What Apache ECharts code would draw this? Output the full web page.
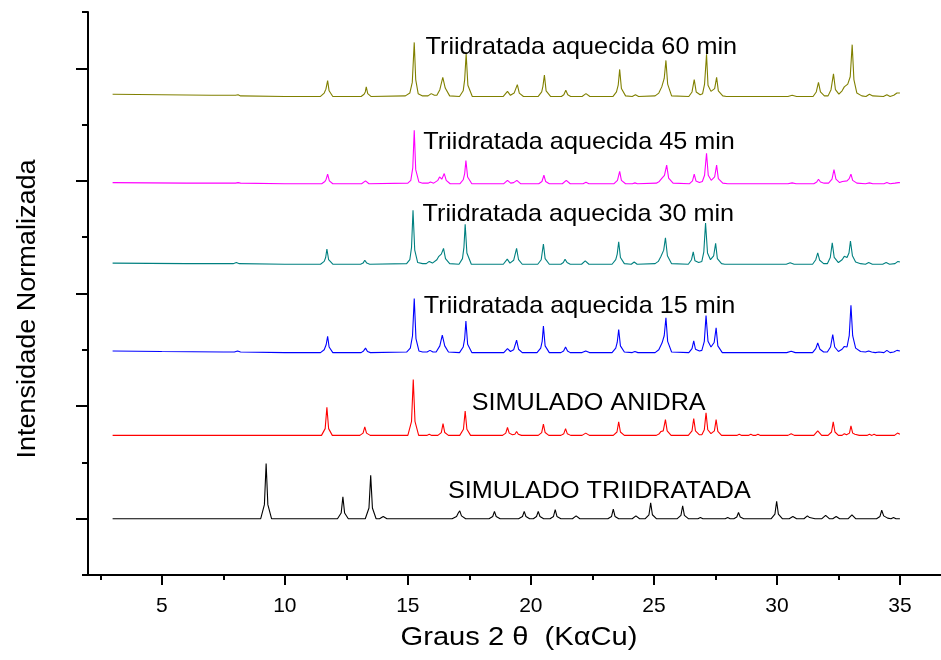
<!DOCTYPE html>
<html>
<head>
<meta charset="utf-8">
<script src="https://cdn.jsdelivr.net/npm/echarts@6/dist/echarts.min.js"></script>
<style>
html,body{margin:0;padding:0;background:#fff;}
#chart{width:941px;height:660px;}
</style>
</head>
<body>
<div id="chart"></div>
<script>
// ---- data (2θ, relative intensity above the pattern's own baseline) ----
const seriesNames = ['SIMULADO TRIIDRATADA','SIMULADO ANIDRA','Triidratada aquecida 15 min','Triidratada aquecida 30 min','Triidratada aquecida 45 min','Triidratada aquecida 60 min'];
const seriesColors = ['#000000','#ff0000','#0000ff','#008080','#ff00ff','#808000'];
const baselineOffsets = [1.0, 2.48, 3.95, 5.52, 6.95, 8.5];

const simTriidratada = [[3,0],[9.02,0],[9.17,0.25],[9.24,0.98],[9.31,0.25],[9.46,0],
[12.14,0],[12.29,0.1],[12.36,0.39],[12.43,0.1],[12.58,0],
[13.27,0],[13.42,0.19],[13.49,0.77],[13.56,0.19],[13.71,0],
[13.85,0],[14.0,0.04],[14.15,0],
[16.8,0],[16.98,0.04],[17.05,0.1],[17.11,0.14],[17.18,0.05],[17.35,0],
[18.3,0],[18.45,0.04],[18.52,0.13],[18.59,0.04],[18.75,0],
[19.5,0],[19.66,0.04],[19.73,0.13],[19.8,0.04],[19.95,0],
[20.1,0],[20.23,0.04],[20.3,0.13],[20.37,0.04],[20.52,0],
[20.78,0],[20.92,0.04],[20.99,0.16],[21.06,0.04],[21.22,0],
[21.69,0],[21.84,0.05],[21.99,0],
[23.13,0],[23.28,0.04],[23.35,0.17],[23.42,0.04],[23.57,0],
[24.12,0],[24.27,0.05],[24.42,0],
[24.65,0],[24.8,0.07],[24.87,0.28],[24.94,0.07],[25.1,0],
[25.95,0],[26.1,0.06],[26.17,0.23],[26.24,0.06],[26.4,0],
[26.79,0],[26.89,0.02],[26.99,0],
[27.9,0],[28.0,0.02],[28.1,0],
[28.25,0],[28.37,0.03],[28.44,0.11],[28.51,0.03],[28.65,0],
[29.77,0],[29.92,0.08],[29.99,0.31],[30.06,0.08],[30.22,0],
[30.5,0],[30.65,0.04],[30.8,0],
[31.1,0],[31.24,0.05],[31.33,0.02],[31.41,0.04],[31.55,0],
[31.83,0],[31.98,0.06],[32.13,0],
[32.27,0],[32.41,0.04],[32.55,0],
[32.9,0],[33.05,0.07],[33.2,0],
[34.05,0],[34.19,0.04],[34.26,0.15],[34.34,0.05],[34.5,0.01],
[34.64,0],[34.74,0.02],[34.84,0],[35,0]];

const simAnidra = [[3,0],[11.49,0],[11.64,0.12],[11.71,0.5],[11.78,0.12],[11.93,0],
[13.05,0],[13.18,0.04],[13.25,0.15],[13.32,0.04],[13.47,0],
[15.0,0],[15.15,0.25],[15.22,0.99],[15.29,0.25],[15.44,0],
[15.77,0],[15.87,0.02],[15.97,0],
[16.22,0],[16.36,0.05],[16.43,0.21],[16.5,0.05],[16.65,0],
[17.11,0],[17.26,0.11],[17.33,0.43],[17.4,0.11],[17.55,0],
[18.85,0],[18.98,0.04],[19.05,0.14],[19.12,0.04],[19.25,0.01],[19.35,0.02],[19.42,0.07],[19.49,0.02],[19.62,0],
[20.3,0],[20.44,0.05],[20.51,0.2],[20.58,0.05],[20.73,0],
[21.22,0],[21.34,0.03],[21.41,0.12],[21.48,0.03],[21.62,0],
[22.08,0],[22.23,0.04],[22.38,0],
[23.35,0],[23.5,0.06],[23.57,0.24],[23.64,0.06],[23.8,0],
[25.1,0],[25.22,0.03],[25.29,0.07],[25.38,0.08],[25.47,0.28],[25.54,0.08],[25.7,0],
[26.4,0],[26.55,0.08],[26.62,0.3],[26.69,0.08],[26.85,0.01],
[26.95,0.01],[27.05,0.1],[27.12,0.4],[27.19,0.1],[27.32,0.03],[27.46,0.08],[27.53,0.28],[27.6,0.07],[27.75,0],
[28.37,0],[28.47,0.02],[28.57,0],
[28.84,0],[28.94,0.02],[29.04,0],[29.13,0],[29.23,0.02],[29.33,0],
[30.45,0],[30.58,0.03],[30.71,0],
[31.5,0],[31.66,0.08],[31.82,0],
[32.08,0],[32.22,0.06],[32.29,0.24],[32.36,0.06],[32.5,0],
[32.65,0],[32.74,0.03],[32.83,0.01],
[32.9,0.01],[32.95,0.04],[33.01,0.17],[33.08,0.04],[33.17,0.02],[33.24,0.05],[33.35,0],
[33.66,0],[33.76,0.02],[33.86,0],[33.95,0.02],[34.05,0],
[34.78,0],[34.9,0.04],[35,0.02]];

const aquecida15 = [[3,0.03],[5,0.02],[7.5,0.01],[7.95,0.01],[8.08,0.03],[8.2,0.01],[10,0],
[11.45,0],[11.6,0.05],[11.68,0.14],[11.74,0.29],[11.8,0.1],[11.95,0],
[13.1,0],[13.2,0.03],[13.28,0.08],[13.36,0.02],[13.48,0],
[14.95,0.01],[15.1,0.08],[15.19,0.3],[15.26,0.96],[15.33,0.25],[15.45,0.03],[15.6,0.01],
[15.78,0.01],[15.9,0.04],[16.02,0.01],
[16.15,0.01],[16.3,0.12],[16.4,0.31],[16.5,0.12],[16.65,0.01],
[17.1,0],[17.25,0.1],[17.31,0.25],[17.36,0.56],[17.43,0.15],[17.6,0],
[18.9,0],[19.05,0.07],[19.17,0.02],[19.3,0.05],[19.42,0.22],[19.5,0.06],[19.65,0],
[20.25,0],[20.4,0.08],[20.46,0.2],[20.51,0.47],[20.58,0.12],[20.75,0],
[21.22,0],[21.33,0.03],[21.41,0.1],[21.49,0.03],[21.6,0],
[22.08,0],[22.23,0.03],[22.38,0],
[23.3,0],[23.45,0.08],[23.51,0.18],[23.57,0.41],[23.64,0.12],[23.8,0.01],
[24.12,0],[24.23,0.02],[24.35,0],
[25.05,0],[25.2,0.05],[25.33,0.17],[25.42,0.3],[25.49,0.62],[25.56,0.2],[25.72,0.01],
[26.42,0],[26.55,0.07],[26.62,0.21],[26.69,0.06],[26.85,0.03],
[26.95,0.04],[27.05,0.2],[27.12,0.66],[27.2,0.2],[27.32,0.1],[27.45,0.18],[27.53,0.44],[27.6,0.12],[27.78,0],
[27.95,0],[28.0,0.015],[28.1,0],[28.4,0],[28.47,0.015],[28.55,0],[28.88,0],[28.94,0.015],[29.02,0],
[30.4,0],[30.58,0.025],[30.75,0],
[31.45,0],[31.58,0.07],[31.66,0.17],[31.75,0.06],[31.9,0.01],
[32.05,0.01],[32.18,0.1],[32.27,0.32],[32.35,0.1],[32.5,0.02],[32.65,0.06],[32.74,0.11],[32.85,0.1],[32.94,0.3],[33.01,0.84],[33.08,0.3],[33.2,0.08],[33.4,0.02],
[33.6,0.01],[33.73,0.03],[33.85,0.01],[34.0,0],[34.15,0.01],
[34.35,0],[34.47,0.04],[34.6,0],[34.75,0.01],[34.88,0.04],[35,0.03]];

const aquecida30 = [[3,0.02],[6,0.01],[7.9,0.01],[8.03,0.03],[8.15,0.01],[10,0],
[11.45,0],[11.6,0.05],[11.66,0.12],[11.71,0.27],[11.78,0.08],[11.95,0],
[13.08,0],[13.18,0.02],[13.25,0.07],[13.33,0.02],[13.45,0],
[14.95,0.01],[15.08,0.08],[15.15,0.3],[15.21,0.96],[15.28,0.25],[15.4,0.03],[15.6,0.01],
[15.75,0.01],[15.87,0.05],[16.0,0.02],
[16.05,0.02],[16.18,0.08],[16.26,0.14],[16.36,0.18],[16.45,0.28],[16.53,0.1],[16.7,0.01],
[17.08,0],[17.22,0.1],[17.28,0.3],[17.33,0.71],[17.4,0.2],[17.58,0],
[18.88,0],[19.04,0.09],[19.15,0.02],[19.3,0.07],[19.42,0.28],[19.5,0.08],[19.65,0],
[20.28,0],[20.42,0.08],[20.51,0.36],[20.58,0.1],[20.75,0],
[21.22,0],[21.32,0.03],[21.39,0.09],[21.47,0.03],[21.6,0],
[22.06,0],[22.21,0.06],[22.36,0],
[23.3,0],[23.45,0.08],[23.51,0.18],[23.57,0.4],[23.64,0.12],[23.8,0.01],
[24.08,0],[24.2,0.04],[24.32,0],
[25.05,0.01],[25.18,0.05],[25.29,0.14],[25.4,0.25],[25.47,0.47],[25.55,0.15],[25.72,0.01],
[26.4,0],[26.53,0.08],[26.6,0.22],[26.67,0.06],[26.82,0.03],
[26.95,0.05],[27.03,0.22],[27.1,0.73],[27.18,0.2],[27.3,0.08],[27.43,0.15],[27.51,0.37],[27.58,0.1],[27.75,0.01],
[27.88,0],[27.95,0.02],[28.05,0],[28.35,0],[28.43,0.015],[28.5,0],[28.82,0],[28.9,0.02],[29.0,0],
[30.38,0],[30.54,0.025],[30.7,0],
[31.45,0],[31.58,0.08],[31.66,0.2],[31.74,0.07],[31.9,0.01],
[32.05,0.01],[32.17,0.12],[32.25,0.38],[32.33,0.12],[32.5,0.03],[32.65,0.08],[32.74,0.14],[32.85,0.12],[32.93,0.2],[32.99,0.41],[33.07,0.15],[33.2,0.04],[33.4,0.01],
[33.6,0],[33.73,0.03],[33.88,0],[34.3,0],[34.44,0.03],[34.58,0],[34.8,0.01],[34.92,0.05],[35,0.04]];

const aquecida45 = [[3,0.02],[6,0.01],[8.0,0.01],[8.1,0.02],[8.2,0.01],[10,0],
[11.5,0],[11.63,0.04],[11.68,0.08],[11.74,0.17],[11.81,0.05],[11.95,0],
[13.12,0],[13.28,0.05],[13.42,0],
[15.0,0.01],[15.12,0.06],[15.2,0.28],[15.26,0.95],[15.32,0.25],[15.45,0.03],[15.6,0.01],
[15.82,0.01],[15.92,0.03],[16.05,0.01],
[16.1,0.01],[16.22,0.06],[16.29,0.12],[16.38,0.08],[16.48,0.18],[16.56,0.06],[16.72,0],
[17.12,0],[17.25,0.07],[17.31,0.18],[17.36,0.41],[17.43,0.12],[17.6,0],
[18.9,0],[19.05,0.06],[19.18,0.01],[19.3,0.02],[19.43,0.06],[19.58,0],
[20.32,0],[20.45,0.04],[20.53,0.15],[20.6,0.04],[20.75,0],
[21.28,0],[21.44,0.06],[21.6,0],
[22.12,0],[22.24,0.025],[22.36,0],
[23.38,0],[23.52,0.06],[23.61,0.22],[23.68,0.06],[23.85,0],
[24.13,0],[24.23,0.015],[24.33,0],
[25.1,0.01],[25.22,0.04],[25.33,0.1],[25.43,0.15],[25.52,0.33],[25.6,0.1],[25.78,0.01],
[26.45,0],[26.57,0.05],[26.64,0.17],[26.71,0.05],[26.85,0.02],
[26.97,0.04],[27.06,0.15],[27.14,0.54],[27.21,0.15],[27.33,0.06],[27.47,0.12],[27.55,0.33],[27.62,0.09],[27.8,0.01],
[28.0,0],[28.05,0.015],[28.15,0],[28.82,0],[28.9,0.015],[29.0,0],
[30.45,0],[30.62,0.015],[30.78,0],
[31.5,0],[31.62,0.03],[31.69,0.08],[31.77,0.03],[31.92,0.01],
[32.1,0.01],[32.24,0.08],[32.32,0.25],[32.4,0.08],[32.55,0.02],[32.66,0.04],[32.74,0.05],[32.85,0.05],[32.94,0.09],[33.01,0.17],[33.08,0.06],[33.25,0.01],
[33.6,0],[33.76,0.015],[33.9,0],[34.35,0],[34.47,0.02],[34.6,0],[34.8,0.01],[34.94,0.02],[35,0.02]];

const aquecida60 = [[3,0.04],[5,0.03],[7,0.02],[8.0,0.02],[8.1,0.03],[8.2,0.01],[10,0],
[11.45,0],[11.6,0.06],[11.67,0.13],[11.74,0.28],[11.8,0.1],[11.95,0],
[13.1,0],[13.22,0.04],[13.27,0.08],[13.31,0.17],[13.37,0.05],[13.5,0],
[14.9,0.01],[15.08,0.06],[15.18,0.25],[15.26,0.96],[15.32,0.3],[15.42,0.05],[15.6,0.01],
[15.82,0.01],[15.95,0.05],[16.08,0.02],
[16.18,0.02],[16.3,0.12],[16.42,0.34],[16.52,0.15],[16.7,0.01],
[17.1,0],[17.25,0.1],[17.31,0.3],[17.37,0.76],[17.44,0.2],[17.62,0],
[18.88,0],[19.05,0.09],[19.17,0.02],[19.32,0.06],[19.45,0.21],[19.53,0.06],[19.7,0],
[20.3,0],[20.44,0.08],[20.49,0.18],[20.55,0.38],[20.62,0.1],[20.8,0],
[21.24,0],[21.34,0.03],[21.42,0.11],[21.5,0.03],[21.62,0],
[22.08,0],[22.24,0.05],[22.4,0],
[23.34,0],[23.48,0.08],[23.55,0.2],[23.61,0.48],[23.68,0.14],[23.85,0.01],
[24.12,0],[24.25,0.03],[24.38,0],
[25.05,0.01],[25.2,0.06],[25.32,0.17],[25.42,0.32],[25.49,0.64],[25.56,0.22],[25.72,0.01],
[26.42,0],[26.55,0.08],[26.64,0.3],[26.72,0.08],[26.88,0.03],
[26.98,0.05],[27.06,0.22],[27.14,0.75],[27.2,0.2],[27.32,0.09],[27.47,0.14],[27.55,0.34],[27.62,0.1],[27.8,0.01],
[27.95,0],[28.03,0.015],[28.12,0],[28.42,0],[28.5,0.015],[28.58,0],[28.9,0],[28.97,0.015],[29.05,0],
[30.45,0],[30.62,0.02],[30.8,0],
[31.47,0],[31.6,0.08],[31.69,0.25],[31.77,0.08],[31.93,0.01],
[32.08,0.01],[32.2,0.12],[32.3,0.4],[32.38,0.12],[32.52,0.04],[32.65,0.1],[32.74,0.17],[32.88,0.22],[32.98,0.35],[33.06,0.92],[33.13,0.3],[33.25,0.06],[33.45,0.01],
[33.62,0],[33.76,0.04],[33.9,0.01],
[34.33,0],[34.47,0.03],[34.6,0],[34.75,0.02],[34.88,0.06],[35,0.06]];

const patterns = [simTriidratada, simAnidra, aquecida15, aquecida30, aquecida45, aquecida60];

// axis ticks
const xMajorTicks = [5,10,15,20,25,30,35];
const xMinorTicks = [2.5,7.5,12.5,17.5,22.5,27.5,32.5];
const yLongTicks = [1,3,5,7,9];
const yShortTicks = [0,2,4,6,8,10];
const xTitle = 'Graus 2 \u03B8  (K\u03B1Cu)';
const yTitle = 'Intensidade Normalizada';

// label anchor positions in data coordinates [2θ, y] (left edge, vertical middle)
const labelAnchors = [[16.63,1.49],[17.6,3.04],[15.65,4.78],[15.6,6.41],[15.63,7.69],[15.72,9.37]];

const FONT = '"Liberation Sans", Arial, sans-serif';
const chart = echarts.init(document.getElementById('chart'), null, {renderer:'canvas'});

const series = patterns.map((p, i) => ({
  name: seriesNames[i],
  type: 'line',
  xAxisIndex: 0, yAxisIndex: 0,
  data: p.map(d => [d[0], d[1] + baselineOffsets[i]]),
  showSymbol: false,
  symbol: 'none',
  lineStyle: {color: seriesColors[i], width: 1.1},
  itemStyle: {color: seriesColors[i]},
  silent: true,
  z: 2
}));

const option = {
  animation: false,
  backgroundColor: '#ffffff',
  grid: {left: 88, right: 0, top: 12, bottom: 85, containLabel: false},
  xAxis: [{
    type: 'value', min: 2, max: 36.67, position: 'bottom',
    axisLine: {onZero: false, lineStyle: {color: '#000', width: 2}},
    axisTick: {show: true, inside: false, length: 10, customValues: xMajorTicks, lineStyle: {color: '#000', width: 2}},
    axisLabel: {customValues: xMajorTicks, color: '#000', fontSize: 21, fontFamily: FONT, margin: 21},
    splitLine: {show: false}
  }, {
    type: 'value', min: 2, max: 36.67, position: 'bottom',
    axisLine: {show: false, onZero: false},
    axisTick: {show: true, inside: false, length: 5, customValues: xMinorTicks, lineStyle: {color: '#000', width: 2}},
    axisLabel: {show: false}, splitLine: {show: false}
  }],
  yAxis: [{
    type: 'value', min: 0, max: 10, position: 'left',
    axisLine: {show: true, onZero: false, lineStyle: {color: '#000', width: 2}},
    axisTick: {show: true, inside: false, length: 6, customValues: yShortTicks, lineStyle: {color: '#000', width: 2}},
    axisLabel: {show: false}, splitLine: {show: false}
  }, {
    type: 'value', min: 0, max: 10, position: 'left',
    axisLine: {show: false, onZero: false},
    axisTick: {show: true, inside: false, length: 12, customValues: yLongTicks, lineStyle: {color: '#000', width: 2}},
    axisLabel: {show: false}, splitLine: {show: false}
  }],
  series: series
};
chart.setOption(option);

// series labels placed at data coordinates; axis titles as text elements
const graphics = seriesNames.map((n, i) => {
  const pt = chart.convertToPixel({xAxisIndex: 0, yAxisIndex: 0}, labelAnchors[i]);
  return {
    type: 'text', x: pt[0], y: pt[1], z: 10, scaleX: 1.05,
    style: {text: n, fill: '#000', font: '24px ' + FONT, textAlign: 'left', textVerticalAlign: 'middle'}
  };
});
graphics.push({
  type: 'text', x: 519, y: 638, z: 10, scaleX: 1.12,
  style: {text: xTitle, fill: '#000', font: '26px ' + FONT, textAlign: 'center', textVerticalAlign: 'middle'}
});
graphics.push({
  type: 'text', x: 28, y: 309, z: 10, rotation: Math.PI / 2, scaleX: 1.04,
  style: {text: yTitle, fill: '#000', font: '26px ' + FONT, textAlign: 'center', textVerticalAlign: 'middle'}
});
chart.setOption({graphic: graphics});
</script>
</body>
</html>
